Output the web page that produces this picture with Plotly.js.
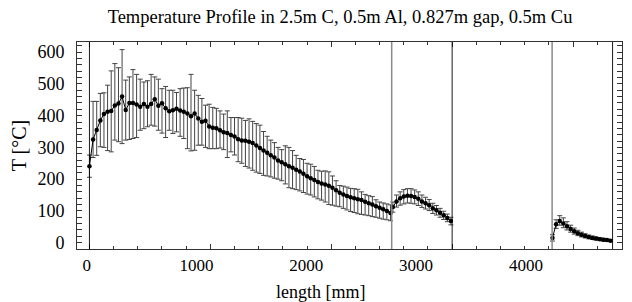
<!DOCTYPE html>
<html>
<head>
<meta charset="utf-8">
<script src="https://cdn.plot.ly/plotly-3.0.1.min.js"></script>
<style>html,body{margin:0;padding:0;background:#fff;}#chart{width:632px;height:302px;}</style>
</head>
<body>
<div id="chart"></div>
<script>
// Segment 1: 2.5 m C
const x1 = [0,30,60,90,120,150,180,210,240,270,300,330,360,390,420,450,480,510,540,570,600,630,660,690,720,750,780,810,840,870,900,930,960,990,1020,1050,1080,1110,1140,1170,1200,1230,1260,1290,1320,1350,1380,1410,1440,1470,1500,1530,1560,1590,1620,1650,1680,1710,1740,1770,1800,1830,1860,1890,1920,1950,1980,2010,2040,2070,2100,2130,2160,2190,2220,2250,2280,2310,2340,2370,2400,2430,2460,2490];
const mean1 = [241,325,355,385,405,412,415,432,438,460,418,440,440,435,428,437,428,437,452,431,439,423,414,417,422,416,412,407,398,407,391,381,384,366,362,360,354,348,345,339,334,326,322,321,318,314,306,298,290,283,275,268,259,253,247,241,236,230,224,217,209,203,197,191,186,183,179,173,165,157,152,147,143,140,137,134,129,124,120,115,110,105,100,93];
const upper1 = [276,445,445,470,472,496,541,564,551,608,512,522,545,530,515,506,510,530,522,515,485,492,480,480,473,485,487,488,530,480,464,454,433,436,426,423,415,405,415,394,394,394,392,385,390,382,375,370,350,335,323,315,300,293,305,300,290,275,265,262,250,247,240,228,225,226,223,210,195,180,178,175,171,170,168,160,152,148,145,135,128,125,122,119];
const lower1 = [206,268,275,302,300,290,286,323,318,312,323,325,328,331,354,359,365,370,367,354,345,331,354,344,349,335,328,296,289,291,307,307,300,296,296,296,298,293,268,286,276,255,250,240,235,228,222,218,212,210,207,203,200,195,185,173,170,167,163,158,153,150,144,138,134,128,120,118,115,113,108,103,98,95,91,89,87,85,82,80,77,74,72,69];
// Segment 2: 0.5 m Al
const x2 = [2510,2540,2570,2600,2630,2660,2690,2720,2750,2780,2810,2840,2870,2900,2930,2960,2990];
const mean2 = [112,130,140,145,148,147,144,138,130,124,118,108,102,94,86,78,68];
const upper2 = [128,150,160,167,170,170,166,160,150,143,136,124,117,108,99,90,80];
const lower2 = [96,112,118,122,125,124,122,117,111,106,101,92,87,80,73,66,56];
// Segment 3: 0.5 m Cu (after 0.827 m gap)
const x3 = [3830,3860,3890,3920,3950,3980,4010,4040,4070,4100,4130,4160,4190,4220,4250,4280,4310];
const mean3 = [15,58,68,60,52,43,36,30,25,21,18,15,13,11,9,8,6];
const upper3 = [25,72,85,78,66,55,46,39,33,28,24,21,18,16,14,12,10];
const lower3 = [5,45,55,47,40,33,27,22,18,15,12,10,8,7,5,4,3];

const boundaries = [0, 2500, 3000, 3827, 4327];
const boundaryColors = ['#000000', '#8a8a8a', '#000000', '#8a8a8a', '#000000'];
const xTickVals = [0, 1000, 2000, 3000, 4000];
const xTickText = ['0', '1000', '2000', '3000', '4000'];

const FONT = '"Liberation Serif", "Times New Roman", serif';

function seg(x, m, up, lo) {
  return {
    x: x, y: m, type: 'scatter', mode: 'lines+markers',
    line: {color: '#000', width: 1},
    marker: {color: '#000', size: 4.5},
    error_y: {
      type: 'data', symmetric: false,
      array: up.map((v, i) => v - m[i]),
      arrayminus: lo.map((v, i) => m[i] - v),
      color: '#444', thickness: 1, width: 2.5
    },
    showlegend: false, hoverinfo: 'x+y'
  };
}

const data = [
  seg(x1, mean1, upper1, lower1),
  seg(x2, mean2, upper2, lower2),
  seg(x3, mean3, upper3, lower3),
  {x: [xTickVals[0], xTickVals[xTickVals.length - 1]], y: [null, null], xaxis: 'x2', yaxis: 'y',
   type: 'scatter', mode: 'markers', showlegend: false, hoverinfo: 'skip'}
];

const shapes = boundaries.map((b, i) => ({
  type: 'line', xref: 'x', yref: 'paper', x0: b, x1: b, y0: 0, y1: 1,
  line: {color: boundaryColors[i], width: boundaryColors[i] === '#000000' ? 0.9 : 1.5}
}));

const layout = {
  width: 632, height: 302,
  margin: {l: 77, r: 10, t: 42, b: 53},
  paper_bgcolor: '#fff', plot_bgcolor: '#fff',
  font: {family: FONT, color: '#000', size: 17},
  title: {text: 'Temperature Profile in 2.5m C, 0.5m Al, 0.827m gap, 0.5m Cu',
          font: {family: FONT, size: 18.5, color: '#000'}, x: 0.538, xanchor: 'center', y: 0.945, yanchor: 'middle'},
  xaxis: {
    range: [-103, 4405], showgrid: false, zeroline: false,
    showline: true, linecolor: '#333', linewidth: 1, mirror: 'allticks',
    ticks: 'inside', ticklen: 5, tickcolor: '#333', tick0: 0, dtick: 1000,
    minor: {ticks: 'inside', ticklen: 3, dtick: 200, tickcolor: '#333'},
    showticklabels: false
  },
  xaxis2: {
    overlaying: 'x', anchor: 'y', side: 'bottom',
    range: [-88.3, 4875], showgrid: false, zeroline: false, showline: false,
    ticks: '', tickvals: xTickVals, ticktext: xTickText, ticklabelstandoff: 4,
    tickfont: {family: FONT, size: 17, color: '#000'}
  },
  yaxis: {
    range: [-20, 632], showgrid: false, zeroline: false,
    showline: true, linecolor: '#333', linewidth: 1, mirror: 'allticks',
    ticks: 'inside', ticklen: 5, tickcolor: '#333', tick0: 0, dtick: 100,
    minor: {ticks: 'inside', ticklen: 3, dtick: 20, tickcolor: '#333'},
    ticklabelstandoff: 8,
    tickfont: {family: FONT, size: 18, color: '#000'},
    title: {text: 'T [°C]', font: {family: FONT, size: 20, color: '#000'}, standoff: 5}
  },
  shapes: shapes,
  annotations: [{
    text: 'length [mm]', xref: 'paper', yref: 'paper', x: 0.446, y: -0.208,
    xanchor: 'center', yanchor: 'middle', showarrow: false,
    font: {family: FONT, size: 18, color: '#000'}
  }]
};

Plotly.newPlot('chart', data, layout, {displayModeBar: false, staticPlot: true});
</script>
</body>
</html>
